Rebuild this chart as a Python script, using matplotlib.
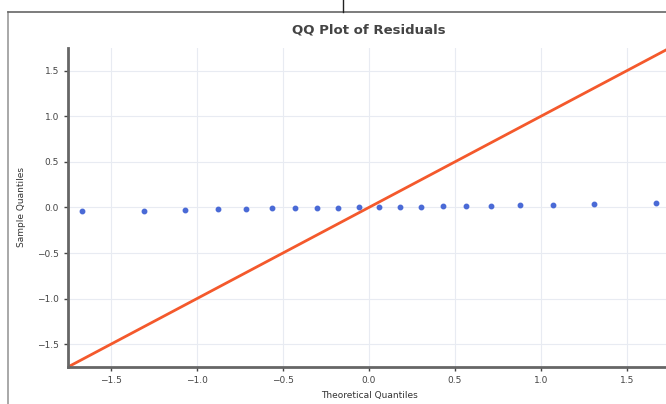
import matplotlib
matplotlib.use('Agg')
import matplotlib.pyplot as plt
from matplotlib.lines import Line2D

# ===== QQ plot of residuals =====
theoretical_q = [-1.668, -1.309, -1.068, -0.876, -0.712, -0.566, -0.431, -0.303, -0.180, -0.060,
                 0.060, 0.180, 0.303, 0.431, 0.566, 0.712, 0.876, 1.068, 1.309, 1.668]
sample_q = [-0.038, -0.036, -0.030, -0.022, -0.017, -0.010, -0.006, -0.004, -0.002, 0.000,
            0.003, 0.006, 0.009, 0.013, 0.016, 0.019, 0.022, 0.027, 0.034, 0.045]
lim = (-1.75, 1.75)
x_ticks = [-1.5, -1.0, -0.5, 0.0, 0.5, 1.0, 1.5]
y_ticks = [-1.5, -1.0, -0.5, 0.0, 0.5, 1.0, 1.5]

fig = plt.figure(figsize=(6.66, 4.04), dpi=100)
ax = fig.add_axes([0.102, 0.0916, 0.904, 0.79])

ax.plot(theoretical_q, sample_q, 'o', color='#4a6ad6', markersize=3.2, zorder=3)
ax.plot(lim, lim, color='#f4592c', lw=2, zorder=2)

ax.set_xlim(lim)
ax.set_ylim(lim)
ax.set_xticks(x_ticks)
ax.set_yticks(y_ticks)
ax.grid(True, color='#e8ebf2', lw=0.8)
ax.set_axisbelow(True)
for side in ['top', 'right']:
    ax.spines[side].set_visible(False)
for side in ['left', 'bottom']:
    ax.spines[side].set_color('#666666')
    ax.spines[side].set_linewidth(2)
ax.tick_params(axis='both', labelsize=6.5, colors='#444444', length=3, width=1)
ax.set_xlabel('Theoretical Quantiles', fontsize=6.5, color='#333333', labelpad=4)
ax.set_ylabel('Sample Quantiles', fontsize=6.5, color='#333333', labelpad=8)
ax.set_title('QQ Plot of Residuals', fontsize=9.5, fontweight='bold', color='#444444', pad=10)

# screenshot frame around the figure
W, H = 666, 404
fig.add_artist(Line2D([8 / W, 8 / W], [0, 1 - 12 / H], color='#999999', lw=1.2, transform=fig.transFigure))
fig.add_artist(Line2D([8 / W, 1], [1 - 12 / H, 1 - 12 / H], color='#666666', lw=1.2, transform=fig.transFigure))
fig.add_artist(Line2D([343 / W, 343 / W], [1 - 12 / H, 1], color='#222222', lw=1, transform=fig.transFigure))

fig.savefig('out.png', dpi=100)
